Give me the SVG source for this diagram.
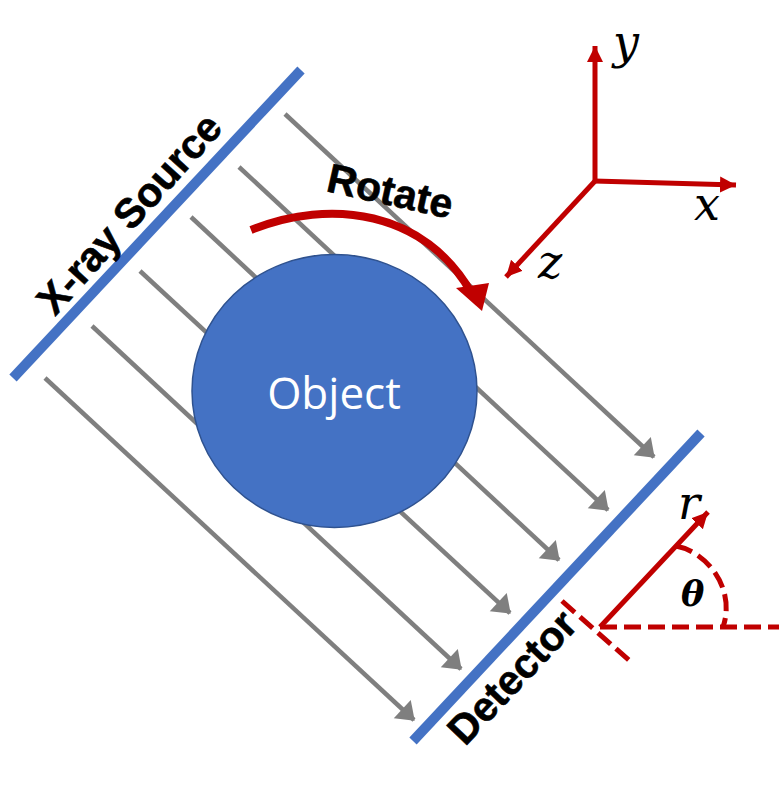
<svg xmlns="http://www.w3.org/2000/svg" width="779" height="790" viewBox="0 0 779 790">
<style>
.ray{stroke:#7f7f7f;stroke-width:4.500;fill:none}
.rayhead{fill:#7f7f7f}
.bar{stroke:#4472c4;stroke-width:10;fill:none}
.red{stroke:#c00000;stroke-width:5;fill:none}
.redfill{fill:#c00000}
.dash{stroke:#c00000;stroke-width:5;fill:none;stroke-dasharray:17 7}
.label{font-family:"Liberation Sans",Arial,sans-serif;font-weight:bold;fill:#000;stroke:#000;stroke-width:0.600}
.math{font-family:"DejaVu Serif","Liberation Serif",serif;font-style:italic;fill:#000}
</style>
<defs>
<marker id="grayhead" markerUnits="userSpaceOnUse" markerWidth="18" markerHeight="26" refX="17" refY="13" orient="auto" viewBox="0 0 18 26"><path class="rayhead" d="M1 0.500L18 13L1 25.500Z"/></marker>
<marker id="redhead" markerUnits="userSpaceOnUse" markerWidth="17" markerHeight="18" refX="16" refY="9" orient="auto" viewBox="0 0 17 18"><path class="redfill" d="M0 1L16 9L0 17Z"/></marker>
</defs>
<g id="connectors">
<path class="ray" marker-end="url(#grayhead)" d="M285 114L654 457"/>
<path class="ray" marker-end="url(#grayhead)" d="M239 167L608 510"/>
<path class="ray" marker-end="url(#grayhead)" d="M191 217L559 560"/>
<path class="ray" marker-end="url(#grayhead)" d="M140 271L510 613"/>
<path class="ray" marker-end="url(#grayhead)" d="M92 326L461 669"/>
<path class="ray" marker-end="url(#grayhead)" d="M45 378L414 720"/>
</g>
<g id="source"><path class="bar" d="M13 378L301 70"/>
<text class="label" font-size="41" transform="translate(55 317) rotate(-48)">X-ray Source</text></g>
<g id="detector"><path class="bar" d="M413 741L701 433"/>
<text class="label" font-size="41" transform="translate(465 747) rotate(-46.500)">Detector</text></g>
<g id="object"><ellipse cx="334.500" cy="391" rx="142.500" ry="136.500" fill="#4472c4" stroke="#2f528f" stroke-width="1.500"/>
<text x="334" y="409" font-family="'Open Sans','Liberation Sans',sans-serif" font-size="44" fill="#fff" text-anchor="middle">Object</text></g>
<g id="rotate"><path d="M251 230C330 198 425 210 472 294" fill="none" stroke="#c00000" stroke-width="8"/>
<path class="redfill" d="M456 288L489 283L482 311Z"/>
<text class="label" font-size="41" transform="translate(325 191) rotate(12.500)">Rotate</text></g>
<g id="axes"><path class="red" marker-end="url(#redhead)" d="M595 183L595 46"/>
<path class="red" marker-end="url(#redhead)" d="M594 181L736 185"/>
<path class="red" marker-end="url(#redhead)" d="M596 180L506 277"/>
<text class="math" x="613" y="58" font-size="46">y</text>
<text class="math" x="694" y="220" font-size="46">x</text>
<text class="math" x="538" y="278" font-size="46">z</text></g>
<g id="angle"><path class="red" marker-end="url(#redhead)" d="M600 627L708 512"/>
<path class="dash" d="M600 627L779 627"/>
<path class="dash" d="M562 601L631 662"/>
<path class="dash" d="M676 546C708 552 736 590 723 627"/>
<text class="math" x="678" y="519" font-size="46">r</text>
<text x="681" y="606" font-family="'DejaVu Serif',serif" font-style="italic" font-weight="bold" font-size="35" fill="#000">θ</text></g>
</svg>
